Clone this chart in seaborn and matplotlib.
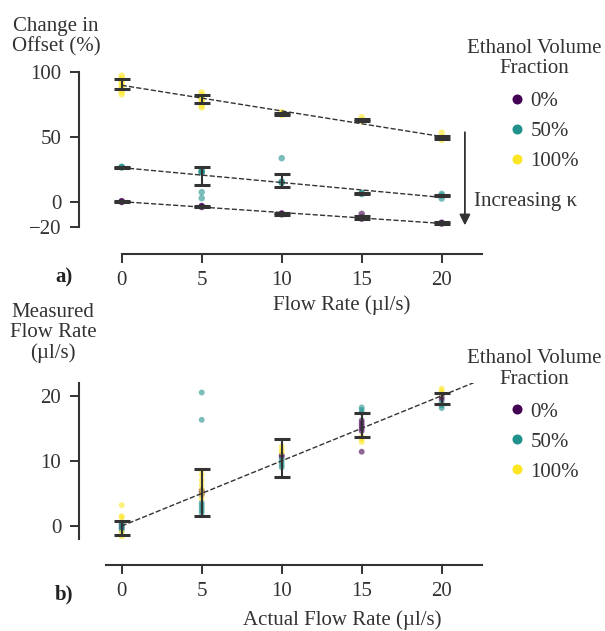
import numpy as np
import pandas as pd
import matplotlib
matplotlib.use("Agg")
import matplotlib.pyplot as plt
import seaborn as sns
from matplotlib.lines import Line2D

# ---------------- data ----------------
fractions = ["0%", "50%", "100%"]
colors = ["#440154", "#21918c", "#fde725"]
flow_rates = [0, 5, 10, 15, 20]

# panel a) change in offset (%) – individual measurements
offset_pts_0 = [[0.3, 0.0, -0.4], [-3.4, -3.8, -4.2], [-9.2, -9.5, -9.9],
                [-9.5, -12.3, -12.7, -13.2], [-16.3, -16.6, -17.0]]
offset_pts_50 = [[26.8, 26.5, 26.2], [24.0, 23.3, 22.8, 22.2, 7.2, 2.6],
                 [33.4, 15.4, 14.9, 14.4], [6.6, 6.2, 5.8], [5.9, 4.6, 2.3]]
offset_pts_100 = [[97.0, 95.0, 93.0, 91.0, 89.0, 87.0, 84.5, 82.5],
                  [84.0, 82.0, 80.0, 78.5, 76.5, 74.0, 72.5],
                  [68.9, 67.4, 66.7], [65.0, 62.6, 62.0], [53.0, 49.3, 47.5]]
# panel a) means and error (read from the error bars)
offset_mean_0 = [0.0, -3.8, -9.5, -12.5, -16.6]
offset_err_0 = [0.4, 0.6, 0.5, 1.3, 0.5]
offset_mean_50 = [26.5, 19.6, 16.3, 6.2, 4.6]
offset_err_50 = [0.4, 7.05, 5.0, 0.5, 0.5]
offset_mean_100 = [90.4, 79.2, 67.4, 62.6, 49.3]
offset_err_100 = [3.75, 3.05, 0.5, 0.6, 1.05]

# panel b) measured flow rate (ul/s) – individual measurements
flow_pts_0 = [[-0.3, 0.2], [5.5, 5.2, 4.8], [10.9, 10.6],
              [16.2, 15.8, 15.4, 15.0, 14.6, 11.4], [19.8, 19.4]]
flow_pts_50 = [[0.4, 0.0, -0.4, -0.7], [20.5, 16.3, 3.6, 3.2, 2.8, 2.4, 2.0],
               [10.2, 9.8, 9.4, 9.0], [18.2, 17.8, 17.4], [18.9, 18.5, 18.1]]
flow_pts_100 = [[3.2, 1.5, 1.3, -1.0, -1.7], [8.5, 7.8, 7.0, 6.3, 5.6, 4.9, 4.2],
                [12.2, 11.7, 11.3], [13.7, 13.3, 12.9], [21.1, 20.7, 20.3]]
# panel b) pooled means and error
flow_mean = [-0.25, 5.15, 10.4, 15.45, 19.6]
flow_err = [1.08, 3.55, 2.9, 1.85, 0.8]
ideal_x = [0, 22]
ideal_y = [0, 22]

top_yticks = [-20, 0, 50, 100]
bottom_yticks = [0, 10, 20]

# ---------------- style ----------------
sns.set_theme(style="ticks")
INK = "#333333"
FS = 15
plt.rcParams.update({
    "font.family": ["Liberation Serif", "DejaVu Serif"],
    "font.size": FS,
    "text.color": INK, "axes.labelcolor": INK,
    "xtick.color": INK, "ytick.color": INK, "axes.edgecolor": INK,
    "axes.linewidth": 1.5,
    "xtick.major.size": 6.5, "ytick.major.size": 6.5,
    "xtick.major.width": 1.4, "ytick.major.width": 1.4,
    "xtick.major.pad": 5.5, "ytick.major.pad": 6.5,
    "xtick.labelsize": FS, "ytick.labelsize": FS, "axes.labelsize": FS,
    "legend.fontsize": FS, "legend.title_fontsize": FS,
})


def long_frame(pt_lists):
    rows = []
    for frac, per_flow in zip(fractions, pt_lists):
        for fr, vals in zip(flow_rates, per_flow):
            for v in vals:
                rows.append({"flow": fr, "value": v, "frac": frac})
    return pd.DataFrame(rows)


df_a = long_frame([offset_pts_0, offset_pts_50, offset_pts_100])
df_b = long_frame([flow_pts_0, flow_pts_50, flow_pts_100])

W, H = 605, 631
fig = plt.figure(figsize=(W / 100, H / 100), dpi=100)
ax_a = fig.add_axes([105.7 / W, 1 - 227.5 / H, 376 / W, 155.8 / H])
ax_b = fig.add_axes([105.7 / W, 1 - 539 / H, 376 / W, 156.3 / H])

pal = dict(zip(fractions, colors))
ebar_kw = dict(fmt="none", ecolor=INK, elinewidth=1.5, capsize=5.5, capthick=2.2, zorder=4)

# ----- panel a -----
sns.scatterplot(data=df_a, x="flow", y="value", hue="frac", hue_order=fractions,
                palette=pal, s=22, alpha=0.6, linewidth=0, legend=False, ax=ax_a, zorder=2)
for m, e in [(offset_mean_0, offset_err_0), (offset_mean_50, offset_err_50),
             (offset_mean_100, offset_err_100)]:
    ax_a.errorbar(flow_rates, m, yerr=e, **ebar_kw)
    sns.regplot(x=flow_rates, y=m, scatter=False, ci=None, truncate=True, ax=ax_a,
                line_kws=dict(ls="--", color=INK, lw=1.0, zorder=5))

ax_a.annotate("", xy=(21.45, -20.5), xytext=(21.45, 55.5),
              arrowprops=dict(arrowstyle="-|>", color=INK, lw=1.3, mutation_scale=16),
              annotation_clip=False)
ax_a.text(22.0, 0.0, "Increasing κ", ha="left", va="center", color=INK, fontsize=FS,
          clip_on=False)

ax_a.set_xlim(-1, 22.5)
ax_a.set_ylim(-20, 100)
ax_a.set_xticks(flow_rates)
ax_a.set_yticks(top_yticks)
ax_a.set_yticklabels(["\u221220", "0", "50", "100"])
ax_a.set_xlabel("Flow Rate (µl/s)", va="center")
ax_a.set_ylabel("Change in\nOffset (%)", rotation=0, ha="center", va="center",
                multialignment="center", linespacing=1.1)
ax_a.xaxis.set_label_coords((342 - 105.7) / 376, (227.5 - 305) / 155.8)
ax_a.yaxis.set_label_coords((56 - 105.7) / 376, (227.5 - 37) / 155.8)
sns.despine(ax=ax_a, offset=19)
ax_a.spines["bottom"].set_bounds(0, 22.5)
ax_a.spines["left"].set_bounds(-20, 100)

# ----- panel b -----
sns.scatterplot(data=df_b, x="flow", y="value", hue="frac", hue_order=fractions,
                palette=pal, s=18, alpha=0.6, linewidth=0, legend=False, ax=ax_b, zorder=2)
ax_b.errorbar(flow_rates, flow_mean, yerr=flow_err, **ebar_kw)
sns.lineplot(x=ideal_x, y=ideal_y, ax=ax_b, color=INK, lw=1.0, ls="--", zorder=5)

ax_b.set_xlim(-1, 22.5)
ax_b.set_ylim(-2, 22)
ax_b.set_xticks(flow_rates)
ax_b.set_yticks(bottom_yticks)
ax_b.set_xlabel("Actual Flow Rate (µl/s)", va="center")
ax_b.set_ylabel("Measured\nFlow Rate\n(µl/s)", rotation=0, ha="center", va="center",
                multialignment="center", linespacing=1.1)
ax_b.xaxis.set_label_coords((342 - 105.7) / 376, (539 - 620) / 156.3)
ax_b.yaxis.set_label_coords((53 - 105.7) / 376, (539 - 333) / 156.3)
sns.despine(ax=ax_b, offset=19)
ax_b.spines["bottom"].set_bounds(-1, 22.5)
ax_b.spines["left"].set_bounds(-2, 22)

# ----- legends (title as separate centred text) -----
handles = [Line2D([], [], marker="o", ls="", color=c, markersize=6.2) for c in colors]
for dy in (0, 310.5):
    fig.text(534 / W, 1 - (58.5 + dy) / H, "Ethanol Volume\nFraction", ha="center",
             va="center", multialignment="center", linespacing=1.1, fontsize=FS, color=INK)
    leg = fig.legend(handles, fractions, loc="upper left",
                     bbox_to_anchor=(506.5 / W, 1 - (91.5 + dy) / H),
                     frameon=False, borderpad=0, borderaxespad=0,
                     handlelength=1.0, handletextpad=0.15, labelspacing=0.5)
    for t in leg.get_texts():
        t.set_color(INK)

# panel letters
fig.text(64 / W, 1 - 277 / H, "a)", weight="bold", ha="center", va="center", fontsize=FS, color="#222222")
fig.text(64 / W, 1 - 594 / H, "b)", weight="bold", ha="center", va="center", fontsize=FS, color="#222222")

fig.savefig("out.png", dpi=100)
